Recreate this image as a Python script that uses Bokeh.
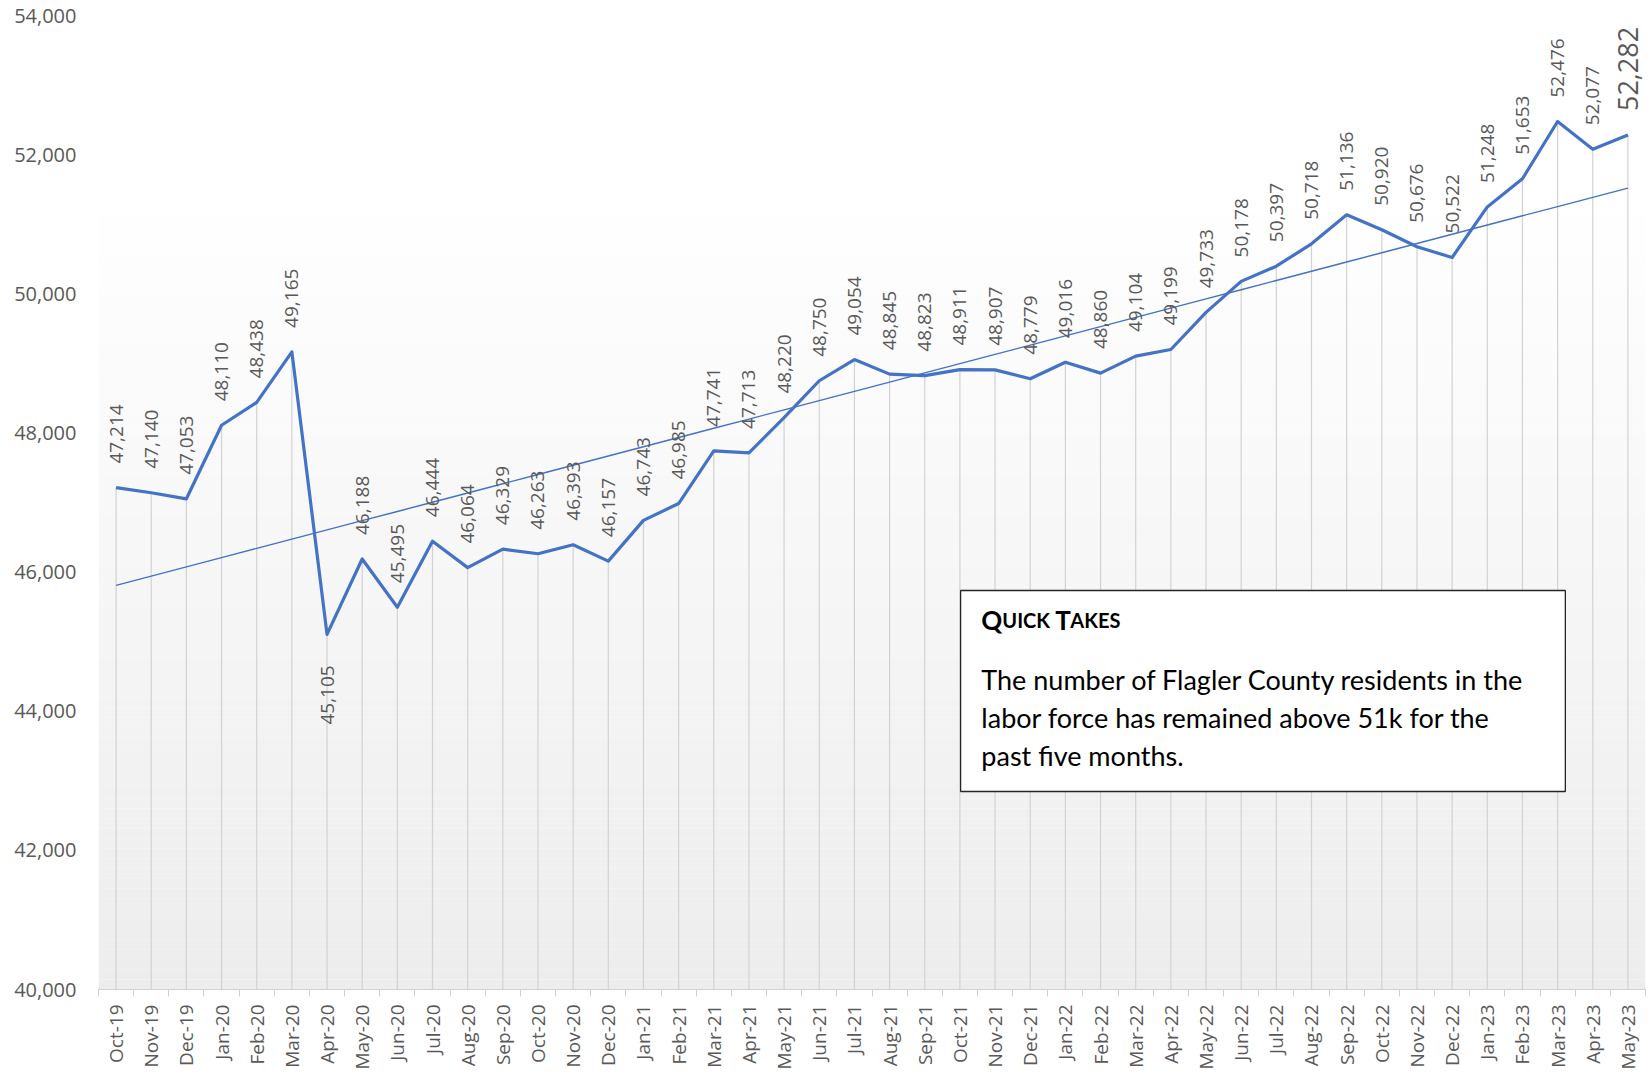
import numpy as np
from math import pi
from bokeh.plotting import figure
from bokeh.models import (ColumnDataSource, FixedTicker, NumeralTickFormatter, BoxAnnotation,
                          Label, CDSView, IndexFilter, Range1d)
from bokeh.core.properties import value
from bokeh.embed import file_html
from bokeh.resources import INLINE

# ---------------- data ----------------
months = ["Oct-19", "Nov-19", "Dec-19",
          "Jan-20", "Feb-20", "Mar-20", "Apr-20", "May-20", "Jun-20", "Jul-20", "Aug-20", "Sep-20", "Oct-20", "Nov-20", "Dec-20",
          "Jan-21", "Feb-21", "Mar-21", "Apr-21", "May-21", "Jun-21", "Jul-21", "Aug-21", "Sep-21", "Oct-21", "Nov-21", "Dec-21",
          "Jan-22", "Feb-22", "Mar-22", "Apr-22", "May-22", "Jun-22", "Jul-22", "Aug-22", "Sep-22", "Oct-22", "Nov-22", "Dec-22",
          "Jan-23", "Feb-23", "Mar-23", "Apr-23", "May-23"]
labor_force = [47214, 47140, 47053,
               48110, 48438, 49165, 45105, 46188, 45495, 46444, 46064, 46329, 46263, 46393, 46157,
               46743, 46985, 47741, 47713, 48220, 48750, 49054, 48845, 48823, 48911, 48907, 48779,
               49016, 48860, 49104, 49199, 49733, 50178, 50397, 50718, 51136, 50920, 50676, 50522,
               51248, 51653, 52476, 52077, 52282]
y_ticks = [40000, 42000, 44000, 46000, 48000, 50000, 52000, 54000]
below_label_months = ["Apr-20"]
note_title = ["Q", "UICK", "T", "AKES"]
note_lines = ["The number of Flagler County residents in the",
              "labor force has remained above 51k for the",
              "past five months."]

n = len(months)
idx = list(range(n))
slope, intercept = np.polyfit(idx, labor_force, 1)
trend = [intercept + slope * i for i in idx]

BLUE = "#4472C4"
GREY_TXT = "#595959"

p = figure(width=1650, height=1074, output_backend="svg", toolbar_location=None,
           x_range=Range1d(-0.5, n - 0.5), y_range=Range1d(y_ticks[0], y_ticks[-1]),
           min_border_left=98, min_border_right=5, min_border_top=15, min_border_bottom=85)
p.outline_line_color = None
p.xgrid.visible = False
p.ygrid.visible = False
p.background_fill_color = "white"

# background gradient (white at top -> light grey at bottom)
n_bands = 80
edges = np.linspace(y_ticks[0], 51580, n_bands + 1)
band_colors = []
for k in range(n_bands):
    g = int(round(237 + (255 - 237) * k / (n_bands - 1)))
    band_colors.append("#%02x%02x%02x" % (g, g, g))
p.quad(left=-0.5, right=n - 0.5, bottom=edges[:-1], top=edges[1:],
       fill_color=band_colors, line_color=None)

# drop lines
p.segment(x0=idx, y0=[y_ticks[0]] * n, x1=idx, y1=labor_force, line_color="#d2d2d2", line_width=1.2)

# trend line and series
p.line(idx, trend, line_color=BLUE, line_width=1.4)
p.line(idx, labor_force, line_color=BLUE, line_width=3.2, line_join="round")

# data labels
src = ColumnDataSource(dict(x=idx, y=labor_force, text=[f"{v:,}" for v in labor_force]))
below_idx = [i for i in idx if months[i] in below_label_months]
last_idx = [n - 1]
above_idx = [i for i in idx if i not in below_idx and i not in last_idx]
common = dict(x="x", y="y", text="text", source=src, angle=pi / 2, text_baseline="middle",
              text_font=value("Open Sans"), text_color=GREY_TXT)
p.text(view=CDSView(filter=IndexFilter(above_idx)), text_align="left", y_offset=-24,
       text_font_size="19px", **common)
p.text(view=CDSView(filter=IndexFilter(below_idx)), text_align="right", y_offset=31,
       text_font_size="19px", **common)
p.text(view=CDSView(filter=IndexFilter(last_idx)), text_align="left", y_offset=-24,
       text_font_size="27px", **common)

# axes
ya = p.yaxis[0]
ya.ticker = FixedTicker(ticks=y_ticks)
ya.formatter = NumeralTickFormatter(format="0,0")
ya.axis_line_color = None
ya.major_tick_line_color = None
ya.minor_tick_line_color = None
ya.major_tick_out = 0
ya.major_tick_in = 0
ya.major_label_standoff = 22
ya.major_label_text_font = "Open Sans"
ya.major_label_text_font_size = "20px"
ya.major_label_text_color = GREY_TXT

xa = p.xaxis[0]
xa.ticker = FixedTicker(ticks=idx, minor_ticks=[i - 0.5 for i in range(n + 1)])
xa.major_label_overrides = {i: m for i, m in enumerate(months)}
xa.major_label_orientation = pi / 2
xa.axis_line_color = "#d0d0d0"
xa.axis_line_width = 1.2
xa.major_tick_line_color = None
xa.major_tick_out = 0
xa.major_tick_in = 0
xa.minor_tick_line_color = "#d0d0d0"
xa.minor_tick_out = 7
xa.minor_tick_in = 0
xa.major_label_standoff = 8
xa.major_label_text_font = "Open Sans"
xa.major_label_text_font_size = "19px"
xa.major_label_text_color = GREY_TXT

# Quick Takes box
box = BoxAnnotation(left=24.02, right=41.22, top=45735, bottom=42846,
                    fill_color="white", fill_alpha=1.0, line_color="#262626", line_width=1.3,
                    line_alpha=1.0)
p.add_layout(box)

title_y = 45305
tx = 24.61
pieces = [(note_title[0], 0, "26px"), (note_title[1], 21, "20px"),
          (note_title[2], 74, "26px"), (note_title[3], 89, "20px")]
for txt, off, size in pieces:
    p.add_layout(Label(x=tx, y=title_y, x_offset=off, text=txt, text_font="Lato",
                       text_font_style="bold", text_font_size=size, text_color="black",
                       text_baseline="alphabetic", text_align="left"))
for line, ly in zip(note_lines, [44456, 43910, 43364]):
    p.add_layout(Label(x=tx, y=ly, text=line, text_font="Lato", text_font_size="27px",
                       text_color="black", text_baseline="alphabetic", text_align="left"))

open("out.html", "w").write(file_html(p, INLINE))
